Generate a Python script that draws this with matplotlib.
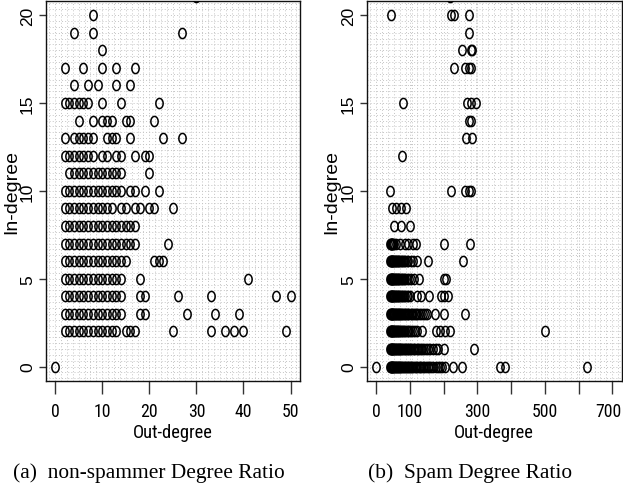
import numpy as np
import matplotlib
matplotlib.use("Agg")
import matplotlib.pyplot as plt
from matplotlib.path import Path
from matplotlib.ticker import MultipleLocator, FixedLocator, FixedFormatter
from matplotlib import font_manager
from matplotlib.font_manager import FontProperties
from matplotlib.transforms import ScaledTranslation

# ---------------- data ----------------
# non-spammer panel: in-degree row -> out-degree values
ns_rows = {
    21: [30],
    20: [8],
    19: [4, 8, 27],
    18: [10],
    17: [2, 6, 10, 13, 17],
    16: [4, 7, 9, 13, 16],
    15: [2, 3, 4, 5, 6, 7, 10, 14, 22],
    14: [5, 8, 10, 11, 12, 15, 16, 21],
    13: [2, 4, 5, 6, 7, 8, 11, 12, 13, 16, 23, 27],
    12: [2, 3, 4, 5, 6, 7, 8, 10, 11, 13, 14, 17, 19, 20],
    11: [3, 4, 5, 6, 7, 8, 9, 10, 11, 12, 13, 14, 20],
    10: [2, 3, 4, 5, 6, 7, 8, 9, 10, 11, 12, 13, 14, 16, 17, 19, 22],
    9: [2, 3, 4, 5, 6, 7, 8, 9, 10, 11, 12, 14, 15, 17, 18, 20, 21, 25],
    8: [2, 3, 4, 5, 6, 7, 8, 9, 10, 11, 12, 13, 14, 15, 16, 17],
    7: [2, 3, 4, 5, 6, 7, 8, 9, 10, 11, 12, 13, 14, 15, 16, 17, 24],
    6: [2, 3, 4, 5, 6, 7, 8, 9, 10, 11, 12, 13, 14, 15, 21, 22, 23],
    5: [2, 3, 4, 5, 6, 7, 8, 9, 10, 11, 12, 13, 14, 18, 41],
    4: [2, 3, 4, 5, 6, 7, 8, 9, 10, 11, 12, 13, 14, 18, 19, 26, 33, 47, 50],
    3: [2, 3, 4, 5, 6, 7, 8, 9, 10, 11, 12, 13, 14, 18, 19, 28, 34, 39],
    2: [2, 3, 4, 5, 6, 7, 8, 9, 10, 11, 12, 13, 15, 16, 17, 25, 33, 36, 38, 40, 49],
    0: [0],
}

# spam panel: in-degree row -> out-degree values
sp_rows = {
    21: [220],
    20: [44, 222, 232, 276],
    19: [275],
    18: [255, 280, 285],
    17: [232, 262, 274, 282],
    15: [81, 268, 282, 296],
    14: [275, 282],
    13: [265, 283],
    12: [78],
    10: [42, 222, 262, 275, 281],
    9: [48, 60, 75, 88],
    8: [52, 75, 100],
    7: [42, 43, 44, 45, 46, 47, 48, 50, 53, 60, 72, 85, 95, 108, 118, 202, 278],
    6: [42, 43, 44, 45, 46, 47, 48, 49, 50, 52, 54, 56, 58, 60, 62, 64, 66, 68, 70, 73, 76, 79,
        82, 86, 90, 95, 102, 110, 122, 155, 257],
    5: [42, 43, 44, 45, 46, 47, 48, 49, 50, 52, 54, 56, 58, 60, 62, 64, 66, 68, 70, 73, 76, 79,
        82, 86, 92, 98, 104, 112, 126, 200, 208],
    4: [42, 43, 44, 45, 46, 47, 48, 49, 50, 52, 54, 56, 58, 60, 62, 64, 66, 68, 70, 73, 76, 79,
        82, 86, 90, 95, 100, 122, 134, 158, 192, 200, 212],
    3: [42, 43, 44, 45, 46, 47, 48, 49, 50, 52, 54, 56, 58, 60, 62, 64, 66, 68, 70, 72, 74, 77,
        80, 83, 86, 89, 92, 95, 98, 102, 106, 110, 114, 118, 122, 127, 132, 138, 144, 150, 175,
        200, 262],
    2: [42, 43, 44, 45, 46, 47, 48, 49, 50, 52, 54, 56, 58, 60, 62, 64, 66, 68, 70, 73, 76, 79,
        82, 86, 90, 94, 98, 102, 108, 116, 122, 135, 178, 190, 205, 219, 500],
    1: [42, 43, 44, 45, 46, 47, 48, 49, 50, 52, 54, 56, 58, 60, 62, 64, 66, 68, 70, 72, 74, 77,
        80, 83, 86, 89, 92, 95, 98, 101, 104, 108, 112, 116, 120, 124, 128, 132, 137, 142, 148,
        154, 160, 168, 176, 184, 200, 291],
    0: [0, 42, 43, 44, 45, 46, 47, 48, 49, 50, 52, 54, 56, 58, 60, 62, 64, 66, 68, 70, 72, 74,
        77, 80, 83, 86, 89, 92, 95, 98, 101, 104, 107, 110, 114, 118, 122, 126, 130, 134, 138,
        143, 148, 153, 158, 164, 170, 176, 182, 188, 195, 203, 227, 254, 367, 382, 624],
}

ns_xticks = [0, 10, 20, 30, 40, 50]
ns_xticklabels = ["0", "10", "20", "30", "40", "50"]
sp_xticks = [0, 100, 200, 300, 400, 500, 600, 700]
sp_xticklabels = ["0", "100", "", "300", "", "500", "", "700"]
yticks = [0, 5, 10, 15, 20]
yticklabels = ["0", "5", "10", "15", "20"]

captions = ["(a)  non-spammer Degree Ratio", "(b)  Spam Degree Ratio"]
xlabel = "Out-degree"
ylabel = "In-degree"


def flatten(rows):
    xs, ys = [], []
    for yv, xl in rows.items():
        for xv in xl:
            xs.append(xv)
            ys.append(yv)
    return np.array(xs, float), np.array(ys, float)


# ---------------- fonts ----------------
def find_narrow():
    prefs = ["Liberation Sans Narrow", "Arial Narrow", "Roboto Condensed",
             "Open Sans Condensed", "Noto Sans Condensed", "DejaVu Sans Condensed"]
    entries = font_manager.fontManager.ttflist
    for p in prefs:
        for f in entries:
            if f.name == p and f.style == "normal" and f.weight in (400, "normal", "regular"):
                return f.fname
    for f in entries:
        st = str(f.stretch)
        if (("Narrow" in f.name or "Condensed" in f.name or st in ("condensed", "semi-condensed"))
                and f.style == "normal" and f.weight in (400, "normal", "regular")
                and "Mono" not in f.name and "Serif" not in f.name):
            return f.fname
    return None

narrow_file = find_narrow()

def narrow_fp(size):
    if narrow_file:
        return FontProperties(fname=narrow_file, size=size)
    return FontProperties(family="Liberation Sans", size=size * 0.84)

sans = "Liberation Sans"
serif = "Liberation Serif"

# ---------------- marker: tall ellipse (open circle, squeezed) ----------------
t = np.linspace(0, 2 * np.pi, 64)
ell = Path(np.column_stack([0.72 * np.cos(t), np.sin(t)]), closed=True)

W, H = 623, 489
fig = plt.figure(figsize=(W / 100, H / 100), dpi=100)
fig.patch.set_facecolor("white")

ax_specs = [
    dict(rect=[45.7 / W, 1 - 381.7 / H, 254.3 / W, 379.7 / H], rows=ns_rows,
         xlim=(-2, 52), xticks=ns_xticks, xtl=ns_xticklabels, minor=1.25,
         ylab_x=-0.133, cap_x=149 / W),
    dict(rect=[366.7 / W, 1 - 381.7 / H, 255 / W, 379.7 / H], rows=sp_rows,
         xlim=(-28, 728), xticks=sp_xticks, xtl=sp_xticklabels, minor=17.5,
         ylab_x=-0.138, cap_x=470.5 / W),
]

for i, sp in enumerate(ax_specs):
    ax = fig.add_axes(sp["rect"])
    xs, ys = flatten(sp["rows"])
    ax.set_xlim(*sp["xlim"])
    ax.set_ylim(-0.8, 20.8)

    # dense dotted background grid
    ax.xaxis.set_minor_locator(MultipleLocator(sp["minor"]))
    ax.yaxis.set_minor_locator(MultipleLocator(1 / 3))
    ax.grid(True, which="both", color="#c4c4c4", linestyle=(0, (1, 2.2)), linewidth=0.7)
    ax.set_axisbelow(True)

    ax.plot(xs, ys, linestyle="none", marker=ell, markersize=7.3,
            markerfacecolor="none", markeredgecolor="black", markeredgewidth=1.1,
            zorder=3)

    ax.xaxis.set_major_locator(FixedLocator(sp["xticks"]))
    ax.xaxis.set_major_formatter(FixedFormatter(sp["xtl"]))
    ax.yaxis.set_major_locator(FixedLocator(yticks))
    ax.yaxis.set_major_formatter(FixedFormatter(yticklabels))

    ax.tick_params(axis="both", which="minor", length=0)
    ax.tick_params(axis="x", which="major", length=9, width=1.0, color="#333333",
                   pad=6, labelsize=12.8)
    ax.tick_params(axis="y", which="major", length=5, width=1.0, color="#333333",
                   pad=2.7, labelsize=12.5)
    for lab in ax.get_xticklabels():
        lab.set_fontproperties(narrow_fp(12.8))
    for lab in ax.get_yticklabels():
        lab.set_fontfamily(sans)
        lab.set_rotation(90)
        lab.set_va("center")

    # the last label on the wide panel sits at the figure edge: nudge it inside
    if i == 1:
        last = ax.xaxis.get_major_ticks()[-1].label1
        last.set_transform(last.get_transform() +
                           ScaledTranslation(-4 / 100, 0, fig.dpi_scale_trans))

    for s in ax.spines.values():
        s.set_color("#111111")
        s.set_linewidth(1.0)

    ax.set_xlabel(xlabel, fontproperties=narrow_fp(13.3))
    ax.xaxis.label.set_va("center")
    ax.xaxis.set_label_coords(0.5, -0.135)

    ax.set_ylabel(ylabel, fontsize=14, fontfamily=sans)
    ax.yaxis.label.set_va("center")
    ax.yaxis.set_label_coords(sp["ylab_x"], 0.5)

    fig.text(sp["cap_x"], 1 - 473 / H, captions[i], ha="center", va="center",
             fontsize=15.4, fontfamily=serif)

fig.savefig("out.png", dpi=100, facecolor="white")
